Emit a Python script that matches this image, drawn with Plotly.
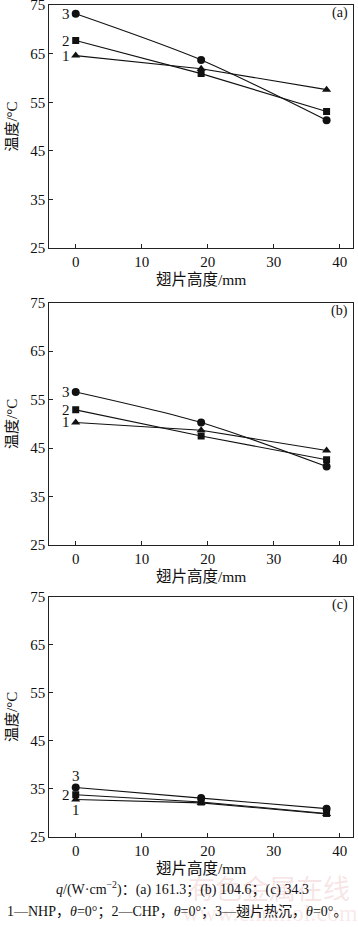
import plotly.graph_objects as go

W, H = 358, 927

fin_height = [0, 19, 38]
panel_labels = ["(a)", "(b)", "(c)"]
series_names = ["1", "2", "3"]
# values per panel: [series1 (NHP, triangle), series2 (CHP, square), series3 (fin heat sink, circle)]
panel_a = [[64.6, 61.9, 57.6], [67.7, 60.9, 53.1], [73.2, 63.7, 51.3]]
panel_b = [[50.3, 48.7, 44.5], [52.9, 47.5, 42.6], [56.6, 50.3, 41.2]]
panel_c = [[32.8, 32.1, 29.8], [33.8, 32.3, 29.9], [35.3, 33.1, 30.9]]
panels = [panel_a, panel_b, panel_c]
y_ticks = [25, 35, 45, 55, 65, 75]
x_ticks = [0, 10, 20, 30, 40]

symbols = ["triangle-up", "square", "circle"]
msizes = [8, 7, 8]

SERIF = "Liberation Serif, Times New Roman, serif"
CJK = "Liberation Serif, Noto Sans CJK SC, serif"

# pixel layout of plot boxes
x_left, x_right = 49.3, 353
boxes = [(5, 248), (302.7, 545), (596.7, 837)]

fig = go.Figure()
layout = dict(
    width=W, height=H, margin=dict(l=0, r=0, t=0, b=0, autoexpand=False),
    paper_bgcolor="white", plot_bgcolor="white", showlegend=False,
    annotations=[],
)

label_pos = [
    [(-1.4, 0.0), (-1.4, 0.0), (-1.4, 0.0)],
    [(-1.4, 0.0), (-1.4, 0.0), (-1.4, 0.0)],
    [(0.0, -2.1), (-1.4, 0.0), (0.0, 2.3)],
]

for p, data in enumerate(panels):
    xa = "x" if p == 0 else f"x{p+1}"
    ya = "y" if p == 0 else f"y{p+1}"
    top, bot = boxes[p]
    layout["xaxis" if p == 0 else f"xaxis{p+1}"] = dict(
        domain=[x_left / W, x_right / W], anchor=ya, range=[-4, 42],
        tickvals=x_ticks, ticks="inside", ticklen=4, tickwidth=1, tickcolor="#222",
        showline=True, linecolor="#222", linewidth=1.2, mirror=True,
        showgrid=False, zeroline=False, automargin=False,
        tickfont=dict(family=SERIF, size=15, color="#111"),
        title=dict(text="翅片高度/mm", font=dict(family=CJK, size=15.5, color="#111"), standoff=5),
    )
    layout["yaxis" if p == 0 else f"yaxis{p+1}"] = dict(
        domain=[1 - bot / H, 1 - top / H], anchor=xa, range=[25, 75.02],
        tickvals=y_ticks, ticks="inside", ticklen=4, tickwidth=1, tickcolor="#222",
        showline=True, linecolor="#222", linewidth=1.2, mirror=True,
        showgrid=False, zeroline=False, automargin=False,
        ticklabeloverflow="allow",
        tickfont=dict(family=SERIF, size=15, color="#111"),
        title=dict(text="温度/°C", font=dict(family=CJK, size=15, color="#111"), standoff=8),
    )
    for s in range(3):
        fig.add_trace(go.Scatter(
            x=fin_height, y=data[s], xaxis=xa, yaxis=ya, mode="lines+markers",
            line=dict(color="#111", width=1.1, shape="spline" if s == 2 else "linear", smoothing=0.8),
            marker=dict(symbol=symbols[s], size=msizes[s], color="#111"),
            hoverinfo="skip",
        ))
        dx, dy = label_pos[p][s]
        layout["annotations"].append(dict(
            x=dx, y=data[s][0] + dy, xref=xa, yref=ya, text=series_names[s],
            showarrow=False, xanchor="center", yanchor="middle",
            font=dict(family=SERIF, size=15, color="#111"),
        ))
    layout["annotations"].append(dict(
        x=41.6, y=73.3, xref=xa, yref=ya, text=panel_labels[p], showarrow=False,
        xanchor="right", yanchor="middle", font=dict(family=SERIF, size=14, color="#111"),
    ))

# watermark (faint, behind caption)
layout["annotations"].append(dict(
    x=269 / W, y=1 - 887 / H, xref="paper", yref="paper", text="有色金属在线",
    showarrow=False, xanchor="center", yanchor="middle",
    font=dict(family="Noto Sans CJK SC", size=27, color="rgba(225,150,150,0.25)"),
))
layout["annotations"].append(dict(
    x=270 / W, y=1 - 913 / H, xref="paper", yref="paper", text="www.cnnmol.com",
    showarrow=False, xanchor="center", yanchor="middle",
    font=dict(family=SERIF, size=24, color="rgba(225,150,150,0.22)"),
))

# caption
layout["annotations"].append(dict(
    x=182 / W, y=1 - 888 / H, xref="paper", yref="paper",
    text="<i>q</i>/(W·cm<sup>−2</sup>)：(a) 161.3；(b) 104.6；(c) 34.3",
    showarrow=False, xanchor="center", yanchor="middle",
    font=dict(family=CJK, size=14, color="#111"),
))
layout["annotations"].append(dict(
    x=177 / W, y=1 - 912 / H, xref="paper", yref="paper",
    text="1—NHP，<i>θ</i>=0°；2—CHP，<i>θ</i>=0°；3—翅片热沉，<i>θ</i>=0°。",
    showarrow=False, xanchor="center", yanchor="middle",
    font=dict(family=CJK, size=14, color="#111"),
))

fig.update_layout(**layout)
fig.write_html(
    "out.html",
    config={"displayModeBar": False},
    post_script="document.body.style.margin='0';document.body.style.overflow='hidden';",
)
